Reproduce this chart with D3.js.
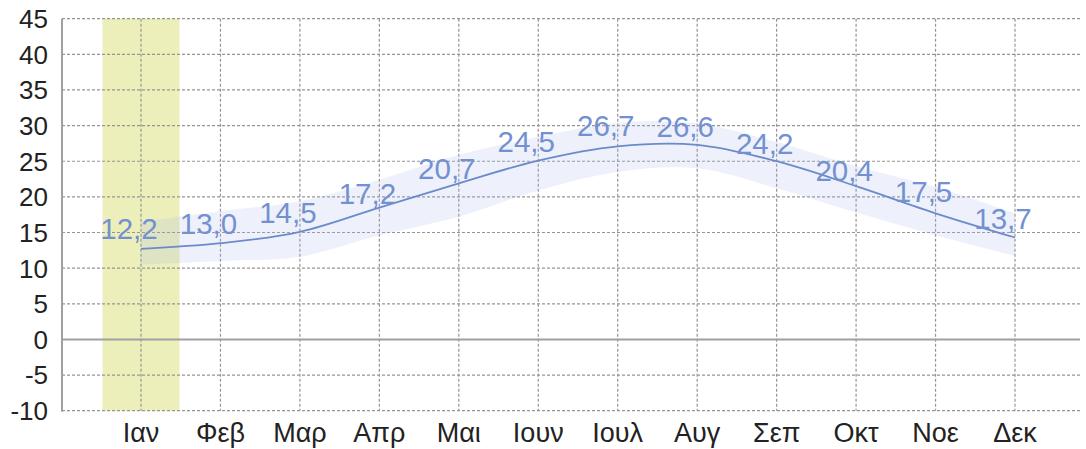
<!DOCTYPE html>
<html>
<head>
<meta charset="utf-8">
<script src="https://cdn.jsdelivr.net/npm/d3@7"></script>
<style>
  html, body { margin: 0; padding: 0; background: #fff; }
  svg { display: block; font-family: "Liberation Sans", Arial, sans-serif; }
</style>
</head>
<body>
<svg id="chart" width="1086" height="449"></svg>
<script>
// ---- data ----
const months = ["Ιαν","Φεβ","Μαρ","Απρ","Μαι","Ιουν","Ιουλ","Αυγ","Σεπ","Οκτ","Νοε","Δεκ"];
const labelValues = [12.2, 13.0, 14.5, 17.2, 20.7, 24.5, 26.7, 26.6, 24.2, 20.4, 17.5, 13.7];
const lineValues  = [12.7, 13.5, 15.1, 18.5, 21.9, 25.1, 27.1, 27.3, 25.0, 21.5, 17.7, 14.3];
const bandHigh    = [16.5, 18.0, 19.4, 22.4, 25.9, 28.4, 30.4, 30.3, 27.7, 24.3, 21.4, 17.7];
const bandLow     = [10.5, 11.0, 11.6, 14.6, 17.2, 20.9, 23.5, 24.0, 21.2, 17.8, 14.6, 11.7];
const yTicks = [-10, -5, 0, 5, 10, 15, 20, 25, 30, 35, 40, 45];
const highlightMonth = "Ιαν";

// ---- layout ----
const svg = d3.select("#chart");
const pLeft = 62, pRight = 1080, pTop = 18.7, pBottom = 410.7;

const x = d3.scalePoint().domain(months).range([141, 1015]);
const y = d3.scaleLinear().domain([-10, 45]).range([pBottom, pTop]);
const step = x.step();

// highlight column
svg.append("rect")
  .attr("x", x(highlightMonth) - step * 0.485)
  .attr("y", pTop)
  .attr("width", step * 0.97)
  .attr("height", pBottom - pTop)
  .attr("fill", "#ecefba");

// horizontal grid
const gridColor = "#959595";
svg.append("g").selectAll("line")
  .data(yTicks.filter(d => d !== 0))
  .join("line")
  .attr("x1", pLeft).attr("x2", pRight)
  .attr("y1", d => y(d)).attr("y2", d => y(d))
  .attr("stroke", gridColor).attr("stroke-width", 1.2)
  .attr("stroke-dasharray", "3,2");

// vertical grid
svg.append("g").selectAll("line")
  .data(months)
  .join("line")
  .attr("x1", d => x(d)).attr("x2", d => x(d))
  .attr("y1", pTop).attr("y2", pBottom)
  .attr("stroke", gridColor).attr("stroke-width", 1.2)
  .attr("stroke-dasharray", "3,2");

// zero line
svg.append("line")
  .attr("x1", pLeft).attr("x2", pRight)
  .attr("y1", y(0)).attr("y2", y(0))
  .attr("stroke", "#a0a0a0").attr("stroke-width", 2);

// y axis line
svg.append("line")
  .attr("x1", pLeft).attr("x2", pLeft)
  .attr("y1", pTop).attr("y2", pBottom + 1)
  .attr("stroke", "#a0a0a0").attr("stroke-width", 2);

// band
const bandData = months.map((m, i) => ({ m, lo: bandLow[i], hi: bandHigh[i] }));
svg.append("path")
  .datum(bandData)
  .attr("d", d3.area()
    .x(d => x(d.m))
    .y0(d => y(d.lo))
    .y1(d => y(d.hi))
    .curve(d3.curveCatmullRom.alpha(0.5)))
  .attr("fill", "#a9bbea")
  .attr("fill-opacity", 0.2);

// line
const lineData = months.map((m, i) => ({ m, v: lineValues[i] }));
svg.append("path")
  .datum(lineData)
  .attr("d", d3.line()
    .x(d => x(d.m))
    .y(d => y(d.v))
    .curve(d3.curveCatmullRom.alpha(0.5)))
  .attr("fill", "none")
  .attr("stroke", "#6b8acb")
  .attr("stroke-width", 1.8);

// data labels
svg.append("g").selectAll("text")
  .data(months.map((m, i) => ({ m, v: labelValues[i] })))
  .join("text")
  .attr("x", d => x(d.m) - 12)
  .attr("y", d => y(d.v) - 13)
  .attr("text-anchor", "middle")
  .attr("font-size", 29.5)
  .attr("fill", "#7391d0")
  .text(d => d.v.toFixed(1).replace(".", ","));

// y tick labels
svg.append("g").selectAll("text")
  .data(yTicks)
  .join("text")
  .attr("x", 48)
  .attr("y", d => y(d))
  .attr("dy", "0.36em")
  .attr("text-anchor", "end")
  .attr("font-size", 26)
  .attr("fill", "#222")
  .text(d => d);

// month labels
svg.append("g").selectAll("text")
  .data(months)
  .join("text")
  .attr("x", d => x(d))
  .attr("y", 442)
  .attr("text-anchor", "middle")
  .attr("font-size", 27)
  .attr("fill", "#222")
  .text(d => d);
</script>
</body>
</html>
